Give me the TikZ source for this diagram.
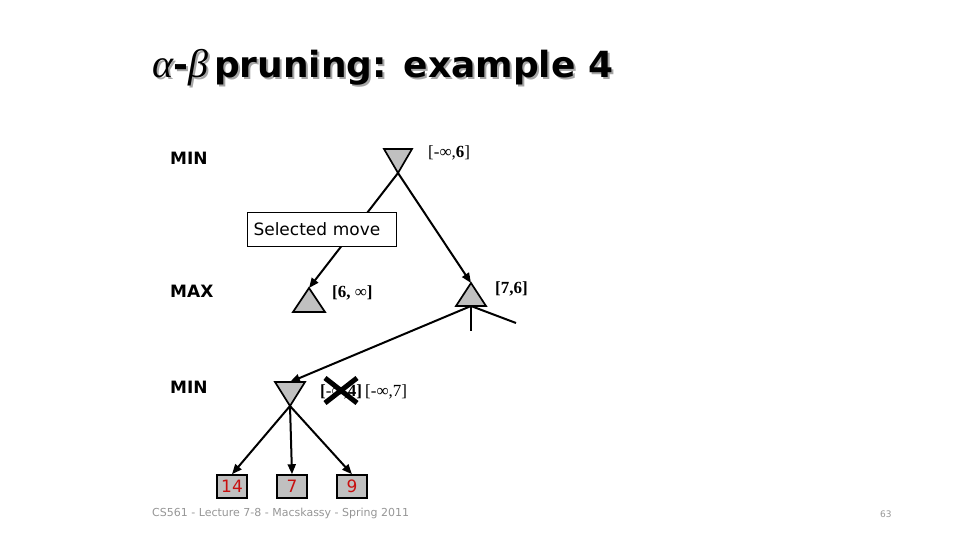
\documentclass[tikz,border=0pt]{standalone}
\usepackage{fontspec}
\setmainfont{DejaVu Sans}
\newfontfamily\serif{Liberation Serif}
\usetikzlibrary{arrows.meta}
\definecolor{trigray}{RGB}{192,192,192}
\definecolor{leafred}{RGB}{200,16,16}
\definecolor{footgray}{RGB}{150,150,150}
\begin{document}
\begin{tikzpicture}[x=1pt,y=-1pt,
  conn/.style={line width=2pt},
  arr/.style={conn,-{Triangle[length=10pt,width=8pt]}},
  tri/.style={fill=trigray,draw=black,line width=1.7pt,line join=miter},
  lvl/.style={anchor=west,inner sep=0,font=\fontsize{17}{20}\selectfont\bfseries},
  val/.style={anchor=west,inner sep=0,font=\fontsize{17}{20}\selectfont\serif},
  leaf/.style={draw,fill=trigray,line width=1.5pt,minimum width=30pt,minimum height=23pt,inner sep=0,text=leafred,font=\fontsize{17}{18}\selectfont},
  xmark/.style={line width=5pt},
  titlefont/.style={font=\fontsize{36}{40}\selectfont},
]
\useasboundingbox (0,0) rectangle (960,540);

% title with shadow
\node[anchor=base west,inner sep=0,text=black!35,titlefont] (titleshadow) at (154,80)
  {{\fontsize{40}{44}\selectfont\serif\itshape α}{\bfseries -}{\fontsize{40}{44}\selectfont\serif\itshape β}\,{\bfseries pruning: example 4}};
\node[anchor=base west,inner sep=0,titlefont] (title) at (152,78)
  {{\fontsize{40}{44}\selectfont\serif\itshape α}{\bfseries -}{\fontsize{40}{44}\selectfont\serif\itshape β}\,{\bfseries pruning: example 4}};

% level labels
\node[lvl] (lminA) at (170,158) {MIN};
\node[lvl] (lmax) at (170,291) {MAX};
\node[lvl] (lminB) at (170,387) {MIN};

% tree points
\coordinate (root) at (398,173);
\coordinate (maxL) at (309,288);
\coordinate (maxR) at (471,283);
\coordinate (maxRb) at (471,306);
\coordinate (minL) at (290,382);
\coordinate (minLb) at (290,406);
\coordinate (endD) at (471,331);
\coordinate (endR) at (516,323);

% triangles
\filldraw[tri] (root) -- (384,149) -- (412,149) -- cycle;
\filldraw[tri] (maxL) -- (293,312) -- (325,312) -- cycle;
\filldraw[tri] (maxR) -- (456,306) -- (486,306) -- cycle;
\filldraw[tri] (minLb) -- (275,382) -- (305,382) -- cycle;

% edges
\draw[arr] (root) -- (maxL);
\draw[arr] (root) -- (maxR);
\draw[arr] (maxRb) -- (minL);
\draw[conn] (maxRb) -- (endD);
\draw[conn] (maxRb) -- (endR);

% selected move box
\node[draw,fill=white,line width=1pt,anchor=north west,inner xsep=6pt,inner ysep=0pt,
      text width=137pt,minimum height=34pt,font=\fontsize{17}{20}\selectfont] (sel) at (247,212) {Selected move};

% leaves
\node[leaf] (l14) at (232,486.5) {14};
\node[leaf] (l7) at (292,486.5) {7};
\node[leaf] (l9) at (352,486.5) {9};
\draw[arr] (minLb) -- (l14.north);
\draw[arr] (minLb) -- (l7.north);
\draw[arr] (minLb) -- (l9.north);

% value labels
\node[val] (vroot) at (428,153) {[-∞,\textbf{6}]};
\node[val] (vmaxL) at (332,293) {\textbf{[6, }∞\textbf{]}};
\node[val] (vmaxR) at (495,289) {\textbf{[7,6]}};
\coordinate (xc) at (341,391);
\draw[xmark] ([shift={(-16,-13)}]xc) -- ([shift={(16,12)}]xc);
\draw[xmark] ([shift={(-16,12)}]xc) -- ([shift={(16,-13)}]xc);
\node[val] (lab4) at (320,392) {\textbf{[}-∞,\textbf{4]}};
\node[val] (lab7) at (365,392) {[-∞,7]};

% footer
\node[anchor=west,inner sep=0,text=footgray,font=\fontsize{11}{13}\selectfont] (foot) at (152,513)
  {CS561 - Lecture 7-8 - Macskassy - Spring 2011};
\node[anchor=west,inner sep=0,text=footgray,font=\fontsize{9}{11}\selectfont] (page) at (880,514) {63};
\end{tikzpicture}
\end{document}
